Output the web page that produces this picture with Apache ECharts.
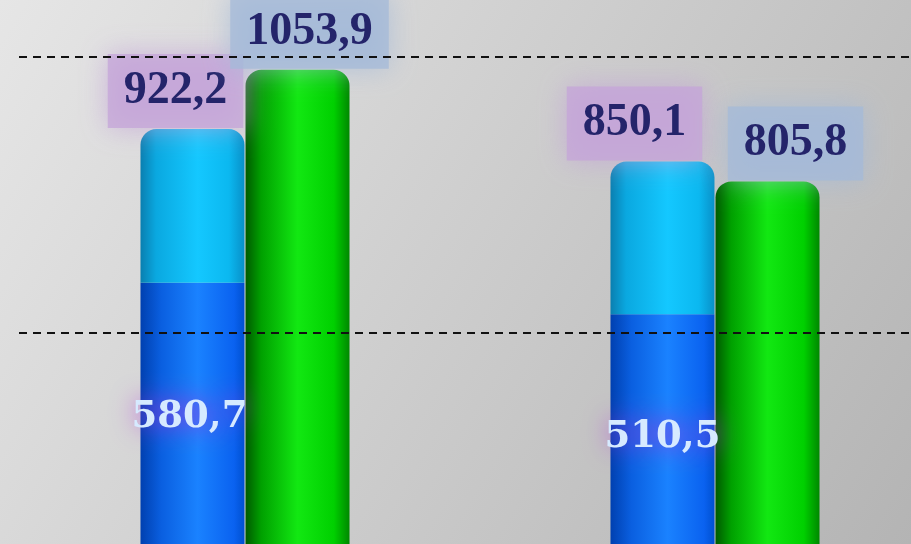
<!DOCTYPE html>
<html>
<head>
<meta charset="utf-8">
<script src="https://cdn.jsdelivr.net/npm/echarts@6/dist/echarts.min.js"></script>
<style>
  html, body { margin: 0; padding: 0; }
  #main { width: 911px; height: 544px; }
</style>
</head>
<body>
<div id="main"></div>
<script>
var categories = ['A', 'B'];
var baseValues = [580.7, 510.5];
var totalValues = [922.2, 850.1];
var greenValues = [1053.9, 805.8];
var refLines = [469, 1083];

// verschil tussen totaal en basis = bovenste deel van de stapel
var topValues = totalValues.map(function (t, i) { return +(t - baseValues[i]).toFixed(1); });

function fmt(v) { return String(v.toFixed(1)).replace('.', ','); }

function grad(stops) {
  return new echarts.graphic.LinearGradient(0, 0, 1, 0, stops.map(function (s) {
    return { offset: s[0], color: s[1] };
  }));
}

var darkBlue = grad([[0, '#0040b0'], [0.2, '#0a5fe0'], [0.55, '#1a82ff'], [0.9, '#0a62f0'], [1, '#0050d0']]);
var lightBlue = grad([[0, '#0a7fb0'], [0.15, '#0aa8e0'], [0.55, '#14c8ff'], [0.85, '#0bb8f0'], [1, '#0890c8']]);
var green = grad([[0, '#005a00'], [0.15, '#00a000'], [0.5, '#12e812'], [0.85, '#00d000'], [1, '#008800']]);

var topLabel = {
  show: true,
  position: ['50%', -38],
  align: 'center',
  verticalAlign: 'middle',
  fontFamily: 'Liberation Serif',
  fontWeight: 'bold',
  fontSize: 46,
  color: '#24246a',
  padding: [16, 16, 12, 16]
};

var hiddenCat = {
  type: 'category',
  axisLine: { show: false },
  axisTick: { show: false },
  axisLabel: { show: false }
};
var hiddenVal = { type: 'value', min: 0, max: 1200, show: false, splitLine: { show: false } };

var myChart = echarts.init(document.getElementById('main'));
myChart.setOption({
  backgroundColor: new echarts.graphic.LinearGradient(0, 0, 1, 1, [
    { offset: 0, color: '#e6e6e6' },
    { offset: 1, color: '#b4b4b4' }
  ]),
  animation: false,
  grid: [
    { left: 245, right: 196, top: 4, bottom: -2 },
    { left: 19, right: 0, top: 4, bottom: -2 }
  ],
  xAxis: [
    Object.assign({ gridIndex: 0, data: categories, boundaryGap: false }, hiddenCat),
    Object.assign({ gridIndex: 1, data: categories }, hiddenCat)
  ],
  yAxis: [
    Object.assign({ gridIndex: 0 }, hiddenVal),
    Object.assign({ gridIndex: 1 }, hiddenVal)
  ],
  series: [
    {
      name: 'basis',
      type: 'bar',
      stack: 'tot',
      clip: false,
      barWidth: 104,
      barGap: '1%',
      itemStyle: { color: darkBlue },
      label: {
        show: true,
        position: 'inside',
        fontFamily: 'DejaVu Serif',
        fontWeight: 'bold',
        fontSize: 37,
        color: '#d6eaff',
        textShadowColor: '#b030e0',
        textShadowBlur: 24,
        formatter: function (p) { return fmt(p.value); }
      },
      data: [
        { value: baseValues[0], label: { offset: [-3, 4] } },
        { value: baseValues[1], label: { offset: [0, 8] } }
      ]
    },
    {
      name: 'totaal',
      type: 'bar',
      stack: 'tot',
      clip: false,
      barWidth: 104,
      itemStyle: { color: lightBlue, borderRadius: [16, 16, 0, 0] },
      label: Object.assign({}, topLabel, {
        backgroundColor: 'rgba(196,164,216,0.75)',
        shadowColor: 'rgba(196,164,216,1)',
        shadowBlur: 28,
        formatter: function (p) { return fmt(totalValues[p.dataIndex]); }
      }),
      data: [
        { value: topValues[0], label: { offset: [-17, 0] } },
        { value: topValues[1], label: { offset: [-28, 0] } }
      ]
    },
    {
      name: 'groen',
      type: 'bar',
      clip: false,
      barWidth: 104,
      itemStyle: { color: green, borderRadius: [16, 16, 0, 0] },
      label: Object.assign({}, topLabel, {
        backgroundColor: 'rgba(164,186,216,0.75)',
        shadowColor: 'rgba(164,186,216,1)',
        shadowBlur: 28,
        formatter: function (p) { return fmt(p.value); }
      }),
      data: [
        { value: greenValues[0], label: { offset: [12, 0] } },
        { value: greenValues[1], label: { offset: [28, 0] } }
      ]
    },
    {
      // alleen voor de gestippelde lijnen over de hele breedte
      name: 'lijnen',
      type: 'line',
      xAxisIndex: 1,
      yAxisIndex: 1,
      data: [],
      markLine: {
        silent: true,
        symbol: 'none',
        label: { show: false },
        lineStyle: { color: '#111', type: [8, 6], width: 2 },
        data: refLines.map(function (v) { return { yAxis: v }; })
      }
    }
  ]
});
</script>
</body>
</html>
